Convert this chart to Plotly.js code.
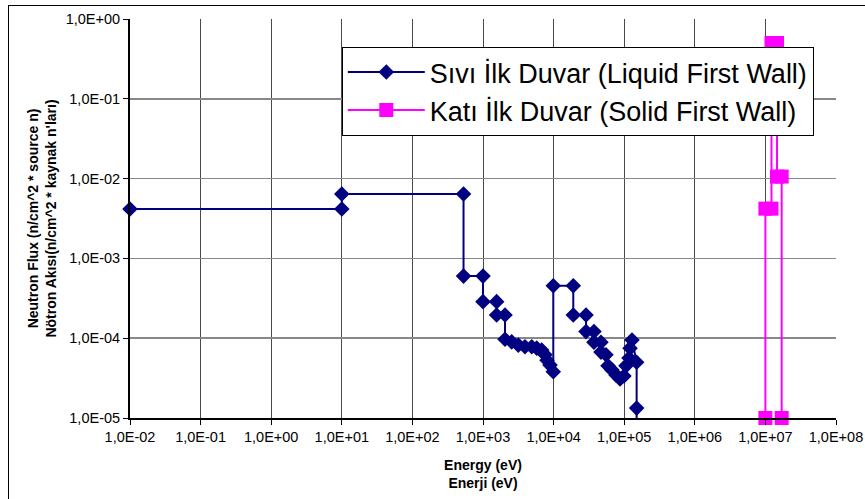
<!DOCTYPE html>
<html>
<head>
<meta charset="utf-8">
<script src="https://cdn.plot.ly/plotly-3.0.1.min.js"></script>
<style>
  html, body { margin: 0; padding: 0; background: #fff; }
  #wrap { position: relative; width: 865px; height: 499px; overflow: hidden; }
  #chart { width: 865px; height: 499px; }
  #frame { position: absolute; left: 8px; top: 5px; width: 900px; height: 600px;
           border-left: 1px solid #000; border-top: 1px solid #000; pointer-events: none; }
</style>
</head>
<body>
<div id="wrap"><div id="chart"></div><div id="frame"></div></div>
<script>
// ---- Data ----
const liquidName = "Sıvı İlk Duvar (Liquid First Wall)";
const solidName = "Katı İlk Duvar (Solid First Wall)";

const liquidEnergy = [1e-2, 10, 10, 530, 530, 1000, 1000, 1560, 1560, 2050,
  2050, 2550, 3160, 3930, 4900, 5770, 6780, 7550, 8070, 8900,
  9900, 9900, 19000, 19000, 28800, 28800, 37300, 37300, 46900, 46900,
  55200, 59000, 67200, 76500, 87300, 99300, 106000, 117000, 121000, 129000,
  150000, 150000, 150000];
const liquidFlux = [4.16e-3, 4.16e-3, 6.4e-3, 6.4e-3, 6.0e-4, 6.0e-4, 2.87e-4, 2.87e-4, 1.95e-4, 1.95e-4,
  9.7e-5, 9.0e-5, 8.2e-5, 7.8e-5, 7.8e-5, 7.5e-5, 7.1e-5, 6.2e-5, 5.3e-5, 4.6e-5,
  3.8e-5, 4.55e-4, 4.55e-4, 1.95e-4, 1.95e-4, 1.21e-4, 1.21e-4, 8.9e-5, 8.9e-5, 6.7e-5,
  6.2e-5, 4.5e-5, 4.0e-5, 3.46e-5, 3.08e-5, 3.36e-5, 4.5e-5, 5.65e-5, 7.5e-5, 9.5e-5,
  5.0e-5, 1.33e-5, 1e-7];

const solidEnergy = [1e7, 1e7, 1.22e7, 1.22e7, 1.46e7, 1.46e7, 1.7e7, 1.7e7];
const solidFlux = [1e-5, 4.2e-3, 4.2e-3, 0.5, 0.5, 1.06e-2, 1.06e-2, 1e-5];

const xTickVals = [1e-2, 1e-1, 1e0, 1e1, 1e2, 1e3, 1e4, 1e5, 1e6, 1e7, 1e8];
const xTickText = ["1,0E-02", "1,0E-01", "1,0E+00", "1,0E+01", "1,0E+02", "1,0E+03",
  "1,0E+04", "1,0E+05", "1,0E+06", "1,0E+07", "1,0E+08"];
const yTickVals = [1e-5, 1e-4, 1e-3, 1e-2, 1e-1, 1e0];
const yTickText = ["1,0E-05", "1,0E-04", "1,0E-03", "1,0E-02", "1,0E-01", "1,0E+00"];

const xTitle = "Energy (eV)<br>Enerji (eV)";
const yTitle = "Neutron Flux (n/cm^2 * source n)<br>Nötron Akısı(n/cm^2 * kaynak n'ları)";

// ---- Chart ----
const FONT = "Arial, 'Liberation Sans', sans-serif";

const traces = [
  {
    x: liquidEnergy, y: liquidFlux, name: liquidName, type: "scatter", mode: "lines+markers",
    line: { color: "#000080", width: 2 },
    marker: { symbol: "diamond", size: 12, color: "#000080" },
    cliponaxis: false, legendgroup: "a"
  },
  {
    x: solidEnergy, y: solidFlux, name: solidName, type: "scatter", mode: "lines+markers",
    line: { color: "#FF00FF", width: 2 },
    marker: { symbol: "square", size: 14, color: "#FF00FF" },
    cliponaxis: false, legendgroup: "b"
  }
];

const layout = {
  width: 865, height: 499,
  margin: { l: 130, r: 29, t: 19, b: 81 },
  paper_bgcolor: "#ffffff", plot_bgcolor: "#ffffff",
  font: { family: FONT, color: "#000", size: 14 },
  showlegend: true,
  legend: {
    x: 0.300, y: 0.930, xanchor: "left", yanchor: "top",
    bgcolor: "#ffffff", bordercolor: "#000", borderwidth: 1,
    font: { family: FONT, size: 27, color: "#000" },
    traceorder: "grouped", tracegroupgap: 0, itemwidth: 77
  },
  xaxis: {
    type: "log", range: [-2, 8], autorange: false,
    tickvals: xTickVals, ticktext: xTickText,
    ticks: "outside", ticklen: 5, tickcolor: "#000", tickwidth: 1,
    showline: true, linecolor: "#000", linewidth: 2,
    showgrid: true, gridcolor: "#4a4a4a", gridwidth: 1,
    zeroline: false,
    tickfont: { family: FONT, size: 14.5, color: "#000" },
    title: { text: xTitle, standoff: 16, font: { family: FONT, size: 14, color: "#000", weight: "bold" } }
  },
  yaxis: {
    type: "log", range: [-5, 0], autorange: false,
    tickvals: yTickVals, ticktext: yTickText,
    ticks: "outside", ticklen: 5, tickcolor: "#000", tickwidth: 1,
    showline: true, linecolor: "#000", linewidth: 2,
    showgrid: true, gridcolor: "#888888", gridwidth: 1.5,
    zeroline: false,
    tickfont: { family: FONT, size: 14.5, color: "#000" },
    title: { text: yTitle, standoff: 6, font: { family: FONT, size: 14, color: "#000", weight: "bold" } }
  }
};

Plotly.newPlot("chart", traces, layout, { displayModeBar: false, staticPlot: true });
</script>
</body>
</html>
